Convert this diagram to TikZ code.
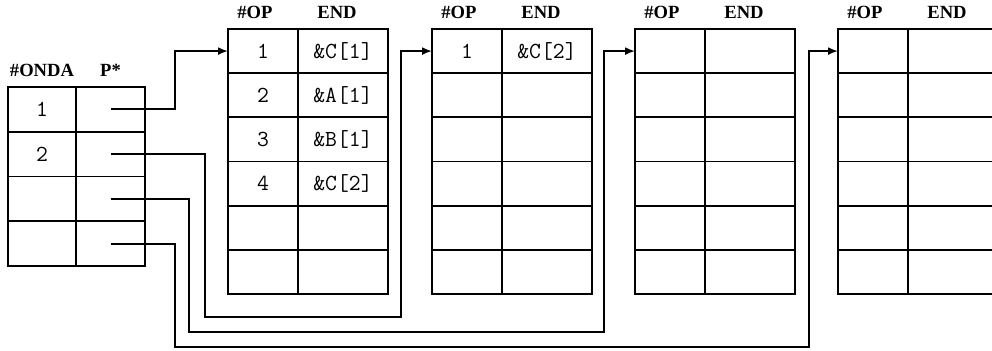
\documentclass[tikz,border=0pt]{standalone}
\usepackage{fontspec}
\newfontfamily\headfont{Liberation Serif}
\usetikzlibrary{positioning,arrows.meta}

\tikzset{
	cell/.style={draw, line width=0.9pt, inner sep=0pt, outer sep=0pt, font=\fontsize{11.5}{13}\selectfont\ttfamily},
	ondacell/.style={cell, minimum width=34pt, minimum height=22.4pt},
	ptrcell/.style={cell, minimum width=34.5pt, minimum height=22.4pt},
	opcell/.style={cell, minimum width=35pt, minimum height=22.08pt},
	endcell/.style={cell, minimum width=45pt, minimum height=22.08pt},
	head/.style={inner sep=1pt, font=\fontsize{9.3}{11}\selectfont\headfont\bfseries},
	link/.style={line width=0.9pt},
	pointer/.style={link, -{Latex[length=5pt,width=4pt]}}
}

\begin{document}
\begin{tikzpicture}[x=0.5pt, y=-0.5pt]
	\clip (0,0) rectangle (992,351);

	% wave table
	\foreach \r/\a in {1/1,2/2,3/{},4/{}}{
		\node[ondacell, anchor=north west] (onda-\r) at (8,{87+(\r-1)*44.75}) {\a};
		\node[ptrcell, right=0pt of onda-\r] (ptr-\r) {};
	}
	\node[head, above=4pt of onda-1] (hd-onda) {\#ONDA};
	\node[head, above=4pt of ptr-1] (hd-ptr) {P*};

	% operation tables
	\foreach \r/\a/\b in {1/1/{\&C[1]},2/2/{\&A[1]},3/3/{\&B[1]},4/4/{\&C[2]},5/{}/{},6/{}/{}}{
		\node[opcell, anchor=north west] (op1-\r) at (228,{29+(\r-1)*44.17}) {\a};
		\node[endcell, right=0pt of op1-\r] (end1-\r) {\b};
	}
	\foreach \r/\a/\b in {1/1/{\&C[2]},2/{}/{},3/{}/{},4/{}/{},5/{}/{},6/{}/{}}{
		\node[opcell, anchor=north west] (op2-\r) at (432,{29+(\r-1)*44.17}) {\a};
		\node[endcell, right=0pt of op2-\r] (end2-\r) {\b};
	}
	\foreach \t/\xx in {3/635,4/838}{
		\foreach \r in {1,...,6}{
			\node[opcell, anchor=north west] (op\t-\r) at (\xx,{29+(\r-1)*44.17}) {};
			\node[endcell, right=0pt of op\t-\r] (end\t-\r) {};
		}
	}
	\foreach \t in {1,...,4}{
		\node[head, above=4pt of op\t-1, xshift=-4pt] (hd\t-op) {\#OP};
		\node[head, above=4pt of end\t-1, xshift=-3pt] (hd\t-end) {END};
	}

	% bends of the pointers
	\coordinate (up1) at (175,0);
	\coordinate (down2) at (205,317);
	\coordinate (up2) at (401,0);
	\coordinate (down3) at (189,332);
	\coordinate (up3) at (604,0);
	\coordinate (down4) at (175,347);
	\coordinate (up4) at (809,0);

	\draw[pointer] (ptr-1.center) -| (up1 |- op1-1.west) -- (op1-1.west);
	\draw[pointer] (ptr-2.center) -| (down2) -| (up2 |- op2-1.west) -- (op2-1.west);
	\draw[pointer] (ptr-3.center) -| (down3) -| (up3 |- op3-1.west) -- (op3-1.west);
	\draw[pointer] (ptr-4.center) -| (down4) -| (up4 |- op4-1.west) -- (op4-1.west);
\end{tikzpicture}
\end{document}
